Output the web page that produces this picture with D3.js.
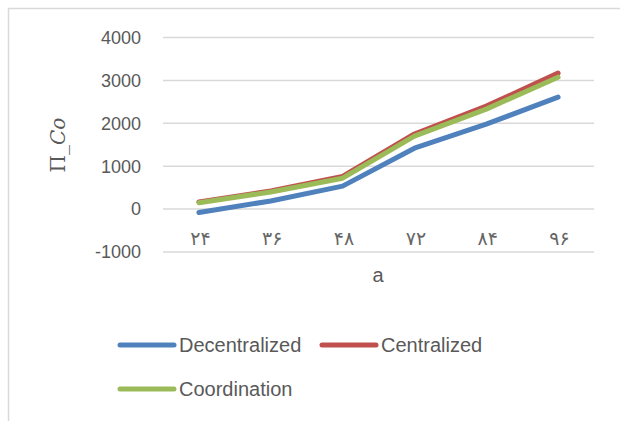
<!DOCTYPE html>
<html>
<head>
<meta charset="utf-8">
<script src="https://cdn.jsdelivr.net/npm/d3@7"></script>
<style>
  body { margin: 0; background: white; }
  text { font-family: "Liberation Sans", Arial, sans-serif; fill: #595959; }
</style>
</head>
<body>
<svg id="chart" width="620" height="421"></svg>
<script>
// data
const categories = ["۲۴", "۳۶", "۴۸", "۷۲", "۸۴", "۹۶"];
const decentralized = [-80, 190, 535, 1420, 1980, 2610];
const centralized = [165, 425, 760, 1750, 2400, 3170];
const coordination = [150, 400, 720, 1700, 2330, 3075];
const yTicks = [-1000, 0, 1000, 2000, 3000, 4000];
const seriesNames = ["Decentralized", "Centralized", "Coordination"];
const seriesColors = ["#4f81bd", "#c0504d", "#9bbb59"];

const svg = d3.select("#chart");

// outer chart frame
svg.append("rect")
  .attr("x", 8.5).attr("y", 8.5)
  .attr("width", 640).attr("height", 440)
  .attr("fill", "white")
  .attr("stroke", "#d9d9d9")
  .attr("stroke-width", 1.5);

const plot = {left: 163, right: 594};

const x = d3.scaleBand()
  .domain(categories)
  .range([plot.left, plot.right]);

const y = d3.scaleLinear()
  .domain([-1000, 4000])
  .range([252, 37.5]);

// gridlines
svg.append("g")
  .selectAll("line")
  .data(yTicks)
  .join("line")
    .attr("x1", plot.left)
    .attr("x2", plot.right)
    .attr("y1", d => y(d))
    .attr("y2", d => y(d))
    .attr("stroke", "#d9d9d9")
    .attr("stroke-width", 1.5);

// y tick labels
svg.append("g")
  .selectAll("text")
  .data(yTicks)
  .join("text")
    .attr("x", 141)
    .attr("y", d => y(d))
    .attr("dy", "0.35em")
    .attr("text-anchor", "end")
    .style("font-size", "18px")
    .text(d => d);

// x category labels (sit below the zero line)
svg.append("g")
  .selectAll("text")
  .data(categories)
  .join("text")
    .attr("x", d => x(d) + x.bandwidth() / 2 + 1.5)
    .attr("y", y(0) + 29)
    .attr("dy", "0.35em")
    .attr("text-anchor", "middle")
    .style("font-family", "'DejaVu Sans', sans-serif")
    .style("font-size", "19px")
    .style("letter-spacing", "3px")
    .style("fill", "#666")
    .text(d => d);

// axis titles
svg.append("text")
  .attr("x", 378)
  .attr("y", 275)
  .attr("dy", "0.35em")
  .attr("text-anchor", "middle")
  .style("font-size", "20px")
  .text("a");

const yTitle = svg.append("text")
  .attr("transform", "translate(58,145) rotate(-90)")
  .attr("dy", "0.35em")
  .attr("text-anchor", "middle")
  .style("font-family", "'DejaVu Serif', 'Liberation Serif', serif")
  .style("font-size", "20px");
yTitle.append("tspan").text("Π_");
yTitle.append("tspan").style("font-style", "italic").text("Co");

// lines
const line = d3.line()
  .x((d, i) => x(categories[i]) + x.bandwidth() / 2)
  .y(d => y(d));

const allSeries = [decentralized, centralized, coordination];
svg.append("g")
  .selectAll("path")
  .data(allSeries)
  .join("path")
    .attr("d", d => line(d))
    .attr("fill", "none")
    .attr("stroke", (d, i) => seriesColors[i])
    .attr("stroke-width", 5)
    .attr("stroke-linecap", "round")
    .attr("stroke-linejoin", "round");

// legend
const legendPos = [[120, 345], [322, 345], [120, 389]];
const legend = svg.append("g")
  .selectAll("g")
  .data(seriesNames)
  .join("g")
    .attr("transform", (d, i) => `translate(${legendPos[i][0]},${legendPos[i][1]})`);

legend.append("line")
  .attr("x1", 0).attr("x2", 54)
  .attr("stroke", (d, i) => seriesColors[i])
  .attr("stroke-width", 5)
  .attr("stroke-linecap", "round");

legend.append("text")
  .attr("x", 59)
  .attr("dy", "0.35em")
  .style("font-size", "20px")
  .text(d => d);
</script>
</body>
</html>
